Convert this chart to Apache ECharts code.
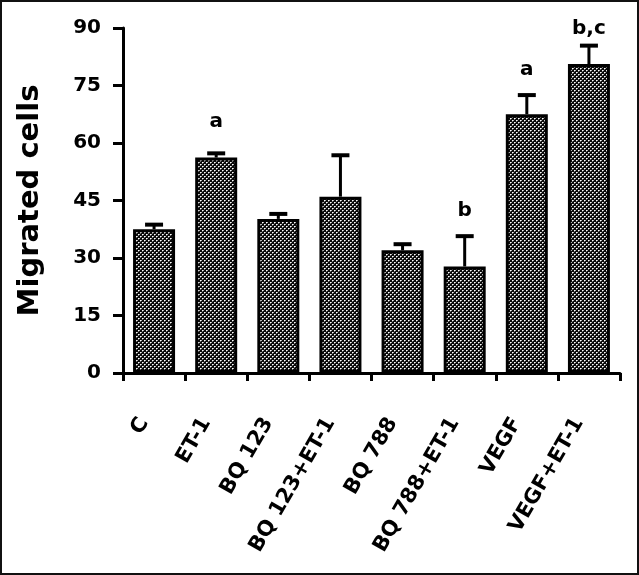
<!DOCTYPE html>
<html>
<head>
<meta charset="utf-8">
<script src="https://cdn.jsdelivr.net/npm/echarts@6/dist/echarts.min.js"></script>
<style>
html,body{margin:0;padding:0;background:#fff;}
#chart{width:639px;height:575px;}
</style>
</head>
<body>
<div id="chart"></div>
<script>
const categories = ['C', 'ET-1', 'BQ 123', 'BQ 123+ET-1', 'BQ 788', 'BQ 788+ET-1', 'VEGF', 'VEGF+ET-1'];
const means = [37.5, 56.2, 40.2, 46.0, 32.0, 27.8, 67.5, 80.6];
const errors = [1.2, 1.1, 1.3, 10.8, 1.6, 7.9, 5.0, 4.8];
const sigLabels = ['', 'a', '', '', '', 'b', 'a', 'b,c'];
const sigLabelY = [null, 65.5, null, null, null, 42.3, 79.0, 89.7];
const yTicks = [0, 15, 30, 45, 60, 75, 90];

const FONT = 'DejaVu Sans';

function makePattern() {
  const c = document.createElement('canvas');
  c.width = 4; c.height = 4;
  const g = c.getContext('2d');
  g.fillStyle = '#0a0a0a';
  g.fillRect(0, 0, 4, 4);
  g.fillStyle = '#ffffff';
  g.fillRect(0, 0, 1, 1);
  g.fillRect(2, 2, 1, 1);
  g.fillStyle = '#b0b0b0';
  g.fillRect(1, 0, 1, 1);
  g.fillRect(3, 2, 1, 1);
  g.fillStyle = '#707070';
  g.fillRect(0, 1, 1, 1);
  g.fillRect(2, 3, 1, 1);
  return c;
}

const chart = echarts.init(document.getElementById('chart'), null, {renderer: 'canvas'});

const errData = categories.map((c, i) => [i, means[i], means[i] + errors[i]]);
const sigData = categories.map((c, i) => [i, sigLabelY[i], sigLabels[i]]).filter(d => d[1] !== null);

chart.setOption({
  animation: false,
  backgroundColor: '#fff',
  graphic: [{
    type: 'rect',
    shape: {x: 1, y: 1, width: 637, height: 573},
    style: {fill: null, stroke: '#111', lineWidth: 2},
    silent: true, z: 100
  }],
  grid: {left: 123, right: 19, top: 28, bottom: 202, containLabel: false},
  xAxis: {
    type: 'category',
    data: categories,
    boundaryGap: true,
    axisLine: {show: true, lineStyle: {color: '#000', width: 3}},
    axisTick: {show: true, length: 8, lineStyle: {color: '#000', width: 3}, alignWithLabel: false},
    axisLabel: {
      interval: 0, rotate: 60, margin: 29, padding: [0, 20, 0, 0],
      fontFamily: FONT, fontWeight: 'bold', fontSize: 21, color: '#000'
    },
    splitLine: {show: false}
  },
  yAxis: {
    type: 'value',
    min: 0, max: 90, interval: 15,
    name: 'Migrated cells',
    nameLocation: 'middle',
    nameGap: 78,
    nameTextStyle: {fontFamily: FONT, fontWeight: 'bold', fontSize: 29, color: '#000'},
    axisLine: {show: true, lineStyle: {color: '#000', width: 3}},
    axisTick: {show: true, length: 10, lineStyle: {color: '#000', width: 3}},
    axisLabel: {
      margin: 22, fontFamily: FONT, fontWeight: 'bold', fontSize: 20, color: '#000',
      formatter: v => yTicks.includes(v) ? String(v) : ''
    },
    splitLine: {show: false}
  },
  series: [
    {
      type: 'bar',
      data: means,
      barWidth: 42,
      itemStyle: {
        color: {image: makePattern(), repeat: 'repeat'},
        borderColor: '#000',
        borderWidth: 3
      },
      z: 2
    },
    {
      type: 'custom',
      data: errData,
      z: 3,
      clip: false,
      renderItem: function (params, api) {
        const x = api.value(0);
        const pBase = api.coord([x, api.value(1)]);
        const pTop = api.coord([x, api.value(2)]);
        const half = 9;
        return {
          type: 'group',
          children: [
            {type: 'line', shape: {x1: pBase[0], y1: pBase[1], x2: pTop[0], y2: pTop[1]},
             style: {stroke: '#000', lineWidth: 3}},
            {type: 'line', shape: {x1: pTop[0] - half, y1: pTop[1], x2: pTop[0] + half, y2: pTop[1]},
             style: {stroke: '#000', lineWidth: 4}}
          ]
        };
      }
    },
    {
      type: 'scatter',
      data: sigData,
      symbolSize: 0,
      clip: false,
      z: 4,
      itemStyle: {opacity: 1},
      label: {
        show: true, position: 'inside',
        formatter: p => p.value[2],
        fontFamily: FONT, fontWeight: 'bold', fontSize: 20, color: '#000'
      }
    }
  ]
});
</script>
</body>
</html>
